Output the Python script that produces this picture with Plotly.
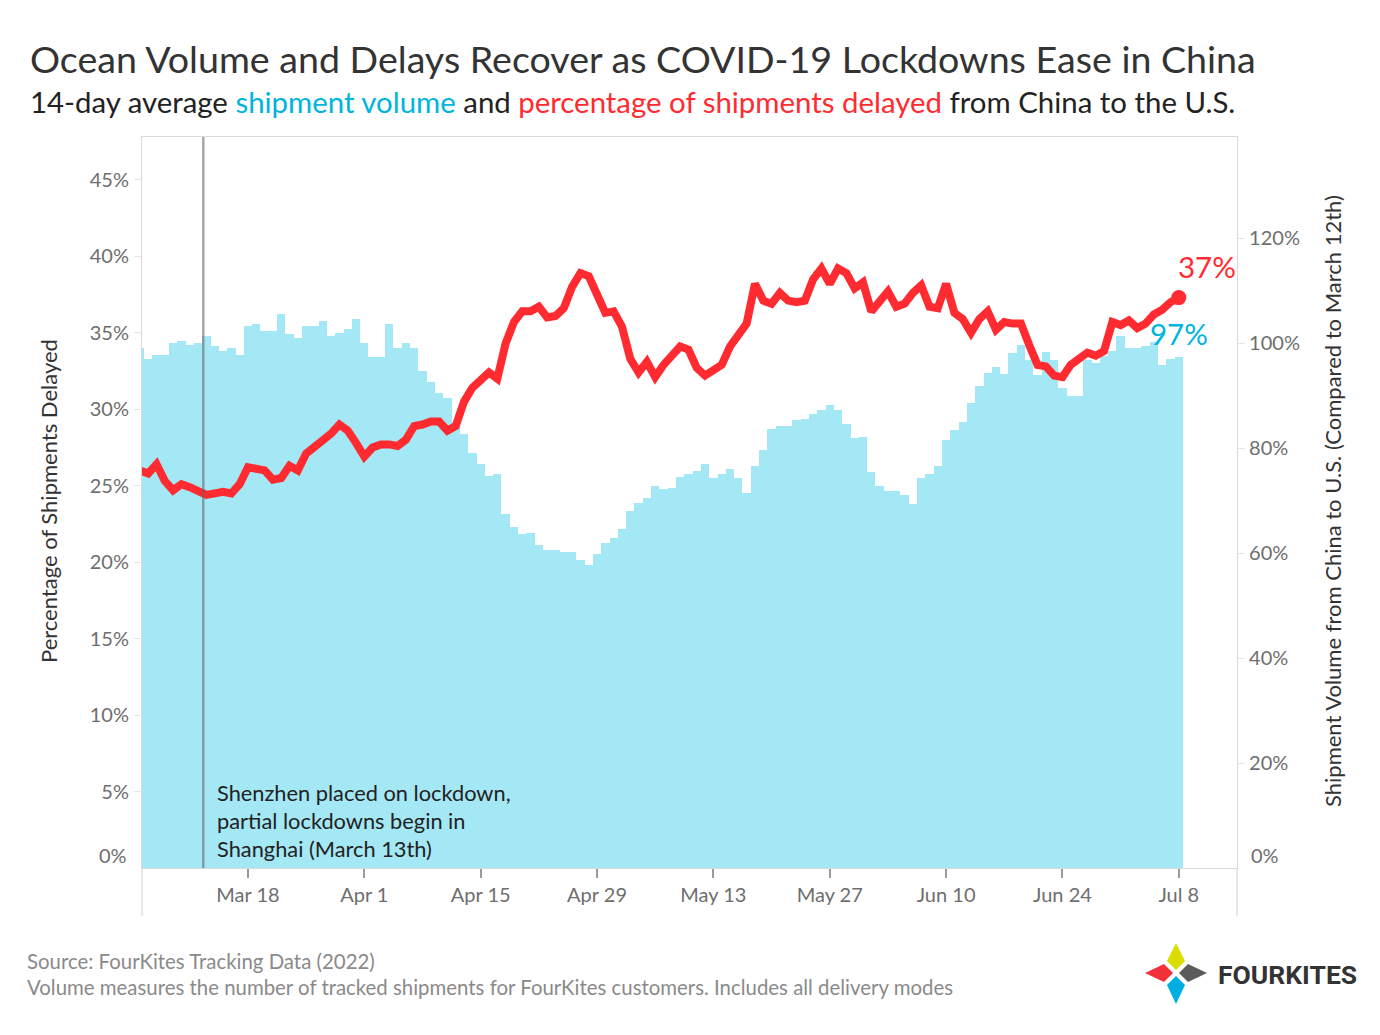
import pandas as pd
import plotly.graph_objects as go

# ---------------- data ----------------
dates = pd.date_range("2022-03-05", "2022-07-08", freq="D")

# shipment volume, % of March 12th (right axis)
volume = [
    # Mar 5-31
    99.0, 97.0, 97.7, 97.7, 100.0, 100.4, 99.6, 100.0, 101.3, 99.4, 98.5, 99.0, 97.7,
    103.3, 103.7, 102.3, 102.3, 105.6, 101.7, 101.0, 103.3, 103.3, 104.2, 101.4, 102.0,
    102.7, 104.6,
    # Apr
    100.0, 97.3, 97.3, 103.6, 99.0, 100.0, 99.0, 94.7, 92.7, 90.5, 89.5, 84.8, 82.7, 79.0,
    77.0, 74.7, 75.0, 67.4, 64.9, 63.6, 63.8, 61.6, 60.6, 60.6, 60.2, 60.2, 58.7, 57.7,
    59.9, 61.9,
    # May
    62.9, 64.6, 68.1, 69.5, 70.5, 72.7, 72.2, 72.4, 74.6, 75.0, 75.7, 77.0, 74.4, 75.0,
    76.0, 74.4, 71.4, 76.7, 79.7, 83.6, 84.2, 84.2, 85.3, 85.6, 86.5, 87.2, 88.2, 87.2,
    84.6, 81.9, 82.2,
    # Jun
    75.4, 72.7, 71.8, 71.8, 71.0, 69.4, 74.4, 75.0, 76.6, 81.6, 83.5, 85.0, 88.6, 91.9,
    94.4, 95.4, 94.1, 98.1, 99.7, 96.8, 94.0, 98.3, 96.8, 91.5, 89.9, 89.9, 96.8, 96.2,
    97.5, 98.5,
    # Jul 1-8
    101.3, 99.1, 99.1, 99.4, 100.2, 95.8, 97.0, 97.3,
]

# percentage of shipments delayed (left axis)
delayed = [
    # Mar 5-31
    26.0, 25.8, 26.4, 25.3, 24.7, 25.1, 24.9, 24.6, 24.4, 24.5, 24.6, 24.5, 25.1, 26.2,
    26.1, 26.0, 25.4, 25.5, 26.3, 26.0, 27.1, 27.5, 27.9, 28.4, 29.0, 28.6, 27.8,
    # Apr
    26.9, 27.5, 27.7, 27.7, 27.6, 28.0, 28.9, 29.0, 29.2, 29.2, 28.6, 28.9, 30.5, 31.4,
    31.9, 32.4, 32.0, 34.3, 35.7, 36.4, 36.4, 36.7, 36.0, 36.1, 36.6, 38.0, 38.9, 38.7,
    37.5, 36.3,
    # May
    36.4, 35.4, 33.3, 32.4, 33.1, 32.1, 32.9, 33.6, 34.1, 33.9, 32.7, 32.2, 32.5, 32.9,
    34.1, 34.8, 35.6, 38.2, 37.1, 36.9, 37.6, 37.1, 37.0, 37.1, 38.5, 39.2, 38.2, 39.2,
    38.9, 37.9, 38.3,
    # Jun
    36.4, 37.0, 37.7, 36.7, 36.9, 37.6, 38.1, 36.7, 36.6, 38.2, 36.3, 35.9, 35.0, 35.9,
    36.4, 35.2, 35.7, 35.6, 35.6, 34.2, 32.9, 32.8, 32.2, 32.1, 32.9, 33.3, 33.7, 33.5,
    33.8, 35.7,
    # Jul 1-8
    35.5, 35.8, 35.3, 35.6, 36.2, 36.5, 37.0, 37.3,
]

x_tick_dates = ["2022-03-18", "2022-04-01", "2022-04-15", "2022-04-29", "2022-05-13",
                "2022-05-27", "2022-06-10", "2022-06-24", "2022-07-08"]
x_tick_labels = ["Mar 18", "Apr 1", "Apr 15", "Apr 29", "May 13", "May 27",
                 "Jun 10", "Jun 24", "Jul 8"]
left_ticks = [5, 10, 15, 20, 25, 30, 35, 40, 45]
right_ticks = [20, 40, 60, 80, 100, 120]
lockdown_date = "2022-03-12 15:00"

# ---------------- style ----------------
OFF = 8                                   # page body margin
W, H = 1364, 1019                         # figure size
L, R, T, B = 142, 1237, 137, 868          # plot area in page pixels
FONT = "Lato"
BAR_C = "#A4E8F5"
RED = "#FF2B30"
CYAN = "#00B4E0"
TICK_C = "#6e6e6e"


def px(xp):
    return (xp - L) / (R - L)


def py(yp):
    return (B - yp) / (B - T)


fig = go.Figure()

fig.add_trace(go.Bar(
    x=dates, y=volume, yaxis="y", marker=dict(color=BAR_C, line=dict(width=0)),
    hoverinfo="skip", showlegend=False,
))
fig.add_trace(go.Scatter(
    x=dates, y=delayed, yaxis="y2", mode="lines", line=dict(color=RED, width=8),
    hoverinfo="skip", showlegend=False,
))
fig.add_trace(go.Scatter(
    x=[dates[-1]], y=[delayed[-1]], yaxis="y2", mode="markers",
    marker=dict(color=RED, size=15), hoverinfo="skip", showlegend=False,
))

annotations = [
    dict(text="Ocean Volume and Delays Recover as COVID-19 Lockdowns Ease in China",
         xref="paper", yref="paper", x=px(28), y=py(58), xanchor="left", yanchor="middle",
         showarrow=False, font=dict(family=FONT, size=37.6, color="#333333")),
    dict(text=("14-day average <span style='color:%s'>shipment volume</span> and "
               "<span style='color:%s'>percentage of shipments delayed</span> "
               "from China to the U.S.") % (CYAN, RED),
         xref="paper", yref="paper", x=px(28), y=py(101), xanchor="left", yanchor="middle",
         showarrow=False, font=dict(family=FONT, size=29.4, color="#222222")),
    dict(text="Percentage of Shipments Delayed", textangle=-90,
         xref="paper", yref="paper", x=px(48), y=py(501), xanchor="center", yanchor="middle",
         showarrow=False, font=dict(family=FONT, size=22, color="#333333")),
    dict(text="Shipment Volume from China to U.S. (Compared to March 12th)", textangle=-90,
         xref="paper", yref="paper", x=px(1332), y=py(501), xanchor="center", yanchor="middle",
         showarrow=False, font=dict(family=FONT, size=22, color="#333333")),
    dict(text="0%", xref="paper", yref="paper", x=px(129), y=py(855),
         xanchor="right", yanchor="middle", showarrow=False,
         font=dict(family=FONT, size=20, color=TICK_C)),
    dict(text="0%", xref="paper", yref="paper", x=px(1249), y=py(855),
         xanchor="left", yanchor="middle", showarrow=False,
         font=dict(family=FONT, size=20, color=TICK_C)),
    dict(text=f"{round(delayed[-1])}%", xref="x", yref="y2", x=dates[-1], y=delayed[-1],
         xanchor="left", yanchor="middle", xshift=-3, yshift=31, showarrow=False,
         font=dict(family=FONT, size=29.5, color=RED)),
    dict(text=f"{round(volume[-1])}%", xref="x", yref="y", x=dates[-1], y=volume[-1],
         xanchor="center", yanchor="middle", yshift=24, showarrow=False,
         font=dict(family=FONT, size=29.5, color=CYAN)),
    dict(text="Source: FourKites Tracking Data (2022)", xref="paper", yref="paper",
         x=px(25), y=py(961), xanchor="left", yanchor="middle", showarrow=False,
         font=dict(family=FONT, size=20.4, color="#8a8a8a")),
    dict(text=("Volume measures the number of tracked shipments for FourKites customers. "
               "Includes all delivery modes"), xref="paper", yref="paper",
         x=px(25), y=py(987), xanchor="left", yanchor="middle", showarrow=False,
         font=dict(family=FONT, size=20.4, color="#8a8a8a")),
    dict(text="<b>FOURKITES</b>", xref="paper", yref="paper", x=px(1216), y=py(974),
         xanchor="left", yanchor="middle", showarrow=False,
         font=dict(family="Roboto", size=26.5, color="#333333")),
]

note_lines = ["Shenzhen placed on lockdown,", "partial lockdowns begin in",
              "Shanghai (March 13th)"]
for i, line in enumerate(note_lines):
    annotations.append(dict(
        text=line, xref="x", yref="paper", x=lockdown_date, y=py(792 + 28 * i),
        xanchor="left", yanchor="middle", xshift=12, showarrow=False,
        font=dict(family=FONT, size=21.8, color="#222222")))

shapes = [
    # lockdown reference line
    dict(type="line", xref="x", yref="paper", x0=lockdown_date, x1=lockdown_date,
         y0=0, y1=1, line=dict(color="rgba(97,97,97,0.55)", width=2.5), layer="above"),
    # x-axis pane dividers below plot
    dict(type="line", xref="paper", yref="paper", x0=0, x1=0, y0=0, y1=py(916),
         line=dict(color="#d9d9d9", width=1.2)),
    dict(type="line", xref="paper", yref="paper", x0=1, x1=1, y0=0, y1=py(916),
         line=dict(color="#d9d9d9", width=1.2)),
]


def kite(tip, w1, inner, w2, color):
    pts = [tip, w1, inner, w2]
    path = "M " + " L ".join(f"{px(a):.5f},{py(b):.5f}" for a, b in pts) + " Z"
    return dict(type="path", xref="paper", yref="paper", path=path,
                fillcolor=color, line=dict(width=0), layer="above")


shapes += [
    kite((1176, 943), (1167, 961), (1176, 970), (1185, 961), "#D9DD00"),
    kite((1145, 973), (1164, 964), (1173, 973), (1164, 982), "#F2323A"),
    kite((1207, 973), (1188, 964), (1179, 973), (1188, 982), "#5B5B5B"),
    kite((1176, 1004), (1167, 985), (1176, 976), (1185, 985), "#00AFDF"),
]

fig.update_layout(
    width=W, height=H, autosize=False,
    margin=dict(l=L - OFF, r=W - (R - OFF), t=T - OFF, b=H - (B - OFF), pad=0),
    paper_bgcolor="white", plot_bgcolor="white",
    bargap=0, showlegend=False,
    font=dict(family=FONT, color=TICK_C),
    xaxis=dict(
        type="date", range=["2022-03-05 06:00", "2022-07-15 00:00"],
        tickvals=x_tick_dates, ticktext=x_tick_labels,
        ticks="outside", ticklen=9, tickwidth=1.5, tickcolor="#9a9a9a",
        ticklabelstandoff=0,
        tickfont=dict(family=FONT, size=20, color=TICK_C),
        showgrid=False, zeroline=False,
        showline=True, linecolor="#d9d9d9", linewidth=1.2, mirror=True,
    ),
    # volume (bars) - base axis on the right
    yaxis=dict(
        range=[0, 139.3], side="right",
        tickvals=right_ticks, ticktext=[f"{v}%" for v in right_ticks],
        ticks="outside", ticklen=7, tickcolor="#e6e6e6", ticklabelstandoff=0,
        tickfont=dict(family=FONT, size=20, color=TICK_C),
        showgrid=False, zeroline=False,
        showline=True, linecolor="#d9d9d9", linewidth=1.2, mirror=True,
    ),
    # delays (line) - overlaying axis on the left, drawn above the bars
    yaxis2=dict(
        range=[0, 47.8], overlaying="y", side="left",
        tickvals=left_ticks, ticktext=[f"{v}%" for v in left_ticks],
        ticks="outside", ticklen=7, tickcolor="#e6e6e6", ticklabelstandoff=1,
        tickfont=dict(family=FONT, size=20, color=TICK_C),
        showgrid=False, zeroline=False, showline=False,
    ),
    annotations=annotations,
    shapes=shapes,
)

fig.write_html("out.html")
